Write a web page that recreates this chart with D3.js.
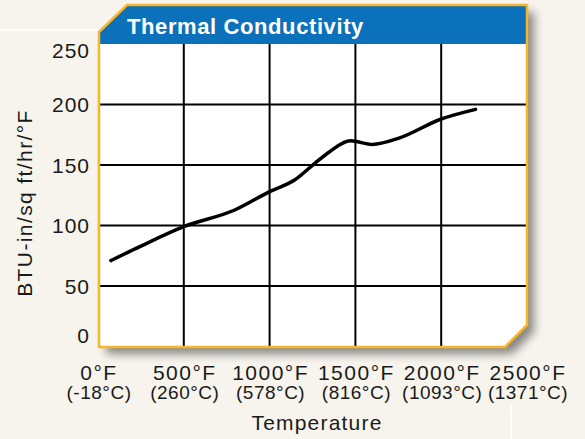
<!DOCTYPE html>
<html>
<head>
<meta charset="utf-8">
<script src="https://cdn.jsdelivr.net/npm/d3@7"></script>
<style>
  body { margin: 0; background: #f6f4ec; }
  svg { display: block; font-family: "Liberation Sans", Arial, sans-serif; }
</style>
</head>
<body>
<div id="chart"></div>
<script>
// values
var temps = [75, 250, 500, 800, 1000, 1150, 1260, 1350, 1470, 1600, 1750, 2000, 2200];
var conductivity = [71, 83, 99, 113, 128, 138, 151, 161, 170, 167, 172, 188, 196];

var xTicks = [0, 500, 1000, 1500, 2000, 2500];
var xLabelsF = ["0°F", "500°F", "1000°F", "1500°F", "2000°F", "2500°F"];
var xLabelsC = ["(-18°C)", "(260°C)", "(578°C)", "(816°C)", "(1093°C)", "(1371°C)"];
var yTicks = [0, 50, 100, 150, 200, 250];

var W = 585, H = 439;
var pLeft = 99, pRight = 527, pTop = 5, pHead = 44, pBottom = 347;

var svg = d3.select('#chart').append('svg')
	.attr('width', W).attr('height', H);

// decorative light lines in the background
svg.append('line').attr('x1', 0).attr('x2', pLeft).attr('y1', 30).attr('y2', 30)
	.attr('stroke', '#fffefa').attr('stroke-width', 2);
svg.append('line').attr('x1', 511).attr('x2', 511).attr('y1', 405).attr('y2', H)
	.attr('stroke', '#fffefa').attr('stroke-width', 2);

var defs = svg.append('defs');
var f = defs.append('filter').attr('id', 'shadow')
	.attr('x', '-10%').attr('y', '-10%').attr('width', '130%').attr('height', '130%');
f.append('feGaussianBlur').attr('in', 'SourceAlpha').attr('stdDeviation', 5).attr('result', 'b');
f.append('feOffset').attr('in', 'b').attr('dx', 7).attr('dy', 7).attr('result', 'o');
f.append('feComponentTransfer').attr('in', 'o').attr('result', 's')
	.append('feFuncA').attr('type', 'linear').attr('slope', 0.45);
var m = f.append('feMerge');
m.append('feMergeNode').attr('in', 's');
m.append('feMergeNode').attr('in', 'SourceGraphic');

var x = d3.scaleLinear().domain([0, 2500]).range([98, pRight]);
var y = d3.scaleLinear().domain([0, 250]).range([346.5, pHead]);

var panel = "M" + pLeft + ",32 L127," + pTop + " L" + pRight + "," + pTop +
	" L" + pRight + ",325 L505," + pBottom + " L" + pLeft + "," + pBottom + " Z";

svg.append('path').attr('d', panel)
	.attr('fill', '#fff')
	.attr('filter', 'url(#shadow)');

// blue header
svg.append('path')
	.attr('d', "M" + pLeft + ",32 L127," + pTop + " L" + pRight + "," + pTop +
		" L" + pRight + "," + pHead + " L" + pLeft + "," + pHead + " Z")
	.attr('fill', '#0a71ba');
svg.append('text')
	.attr('x', 127).attr('y', 34)
	.attr('fill', '#fff')
	.attr('font-weight', 'bold')
	.attr('font-size', 22)
	.attr('letter-spacing', 0.6)
	.text('Thermal Conductivity');

// grid
var grid = svg.append('g');
grid.selectAll('line.h')
	.data(yTicks.filter(function(d){ return d > 0 && d < 250; }))
	.enter().append('line')
	.attr('class', 'h')
	.attr('x1', pLeft).attr('x2', pRight)
	.attr('y1', function(d){ return y(d); })
	.attr('y2', function(d){ return y(d); })
	.attr('stroke', '#000').attr('stroke-width', 2);
grid.selectAll('line.v')
	.data(xTicks.filter(function(d){ return d > 0 && d < 2500; }))
	.enter().append('line')
	.attr('class', 'v')
	.attr('y1', pHead).attr('y2', pBottom)
	.attr('x1', function(d){ return x(d); })
	.attr('x2', function(d){ return x(d); })
	.attr('stroke', '#000').attr('stroke-width', 2);

// curve
var line = d3.line()
	.x(function(d, i){ return x(temps[i]); })
	.y(function(d){ return y(d); })
	.curve(d3.curveMonotoneX);
svg.append('path')
	.datum(conductivity)
	.attr('d', line)
	.attr('fill', 'none')
	.attr('stroke', '#000')
	.attr('stroke-width', 3.5)
	.attr('stroke-linecap', 'round');

// orange border
svg.append('path').attr('d', panel)
	.attr('fill', 'none')
	.attr('stroke', '#f7b52b')
	.attr('stroke-width', 2.5);

// y tick labels
svg.append('g').selectAll('text')
	.data(yTicks).enter().append('text')
	.attr('x', 90)
	.attr('y', function(d){ return Math.max(50, Math.min(335, y(d))); })
	.attr('dy', '0.36em')
	.attr('text-anchor', 'end')
	.attr('font-size', 21)
	.attr('letter-spacing', 1)
	.attr('fill', '#1a1a1a')
	.text(function(d){ return d; });

// x tick labels
var xl = svg.append('g').selectAll('g')
	.data(xTicks).enter().append('g')
	.attr('transform', function(d){ return 'translate(' + (x(d) + 1) + ',0)'; });
xl.append('text')
	.attr('y', 380).attr('text-anchor', 'middle')
	.attr('font-size', 21).attr('letter-spacing', 1.5).attr('fill', '#1a1a1a')
	.text(function(d, i){ return xLabelsF[i]; });
xl.append('text')
	.attr('y', 399).attr('text-anchor', 'middle')
	.attr('font-size', 19).attr('letter-spacing', 0.5).attr('fill', '#1a1a1a')
	.text(function(d, i){ return xLabelsC[i]; });

svg.append('text')
	.attr('x', 317).attr('y', 430)
	.attr('text-anchor', 'middle')
	.attr('font-size', 21).attr('letter-spacing', 1.2).attr('fill', '#1a1a1a')
	.text('Temperature');

svg.append('text')
	.attr('transform', 'translate(32,' + 203 + ') rotate(-90)')
	.attr('text-anchor', 'middle')
	.attr('font-size', 21).attr('letter-spacing', 1.4).attr('fill', '#1a1a1a')
	.text('BTU-in/sq ft/hr/°F');
</script>
</body>
</html>
